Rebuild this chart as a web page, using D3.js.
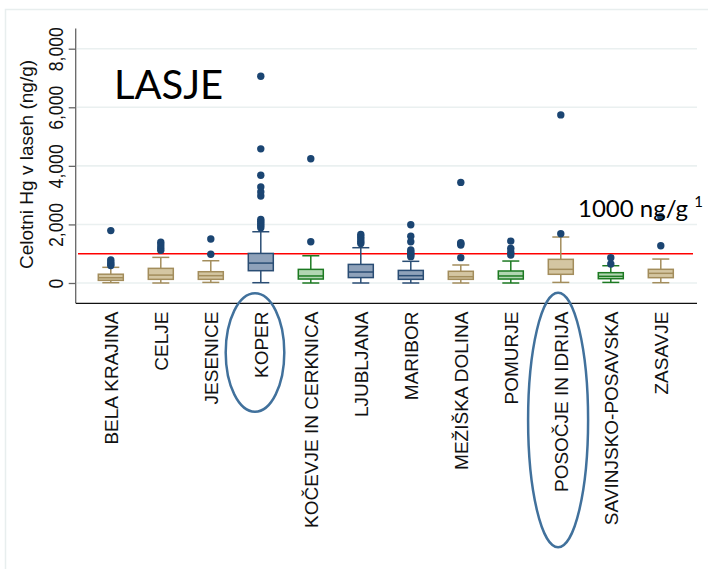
<!DOCTYPE html>
<html>
<head>
<meta charset="utf-8">
<script src="https://cdn.jsdelivr.net/npm/d3@7"></script>
<style>
  html, body { margin: 0; padding: 0; background: #ffffff; }
  svg { display: block; }
</style>
</head>
<body>
<svg id="chart" width="708" height="569"></svg>
<script>
// Regions (x-axis categories)
const categories = [
  "BELA KRAJINA", "CELJE", "JESENICE", "KOPER", "KOČEVJE IN CERKNICA",
  "LJUBLJANA", "MARIBOR", "MEŽIŠKA DOLINA", "POMURJE", "POSOČJE IN IDRIJA",
  "SAVINJSKO-POSAVSKA", "ZASAVJE"
];
// Box plot statistics, total Hg in hair (ng/g)
const whiskerLow  = [10, 0, 20, 10, 0, 0, 0, 0, 0, 20, 20, 10];
const q1          = [90, 125, 125, 420, 135, 185, 125, 125, 135, 297, 147, 182];
const median      = [180, 270, 250, 680, 240, 375, 250, 215, 240, 467, 228, 330];
const q3          = [300, 500, 385, 1010, 465, 635, 430, 400, 410, 808, 352, 467];
const whiskerHigh = [535, 875, 760, 1750, 930, 1205, 740, 615, 750, 1570, 590, 818];
const outliers = [
  [600, 650, 720, 790, 1790],
  [1120, 1200, 1300, 1390],
  [980, 1500],
  [1890, 1960, 2030, 2100, 2170, 2970, 3110, 3280, 3680, 4580, 7060],
  [1410, 4240],
  [1350, 1420, 1500, 1580, 1660],
  [900, 960, 1010, 1070, 1125, 1410, 1600, 1990],
  [865, 1300, 1340, 1375, 3435],
  [955, 1050, 1180, 1430],
  [1683, 5740],
  [648, 865],
  [1272, 2260]
];
// Colour group of each box
const group = ["sand", "sand", "sand", "navy", "green", "navy", "navy", "sand", "green", "sand", "green", "sand"];
const yTicks = [0, 2000, 4000, 6000, 8000];
const threshold = 1000;
const highlighted = ["KOPER", "POSOČJE IN IDRIJA"];

const palette = {
  sand:  { fill: "#d4c6a2", stroke: "#a38d5c" },
  navy:  { fill: "#8fa2ba", stroke: "#2a4d74" },
  green: { fill: "#b2d6b2", stroke: "#1d7a22" }
};

const svg = d3.select("#chart");

// Light frame around the figure
svg.append("rect")
  .attr("x", 5.5).attr("y", 9.5).attr("width", 760).attr("height", 600)
  .attr("fill", "none").attr("stroke", "#e8eeee").attr("stroke-width", 1.5);

const x = d3.scaleBand().domain(categories).range([85.8, 685.8]).padding(0);
const y = d3.scaleLinear().domain([0, 8000]).range([283, 48.7]);
const boxW = x.bandwidth() * 0.5;
const capW = boxW * 0.68;
const cx = c => x(c) + x.bandwidth() / 2;

// Gridlines
svg.append("g").selectAll("line").data(yTicks).join("line")
  .attr("x1", 77).attr("x2", 697)
  .attr("y1", d => y(d)).attr("y2", d => y(d))
  .attr("stroke", "#eaf0f0").attr("stroke-width", 1.6);

// Y axis
const yAxis = svg.append("g").attr("transform", "translate(75.7,0)")
  .call(d3.axisLeft(y).tickValues(yTicks).tickSize(7).tickFormat(d3.format(",")));
yAxis.select(".domain").attr("d", `M0,${y(0) + 20}V28.5`).attr("stroke", "#666").attr("stroke-width", 1.3);
yAxis.selectAll(".tick line").attr("stroke", "#666").attr("stroke-width", 1.3);
yAxis.selectAll(".tick text")
  .attr("transform", "rotate(-90) scale(0.98,1.15)")
  .attr("x", 0).attr("y", -11).attr("dy", 0)
  .attr("text-anchor", "middle")
  .attr("font-family", "Liberation Sans, Arial, sans-serif")
  .attr("font-size", 18).attr("fill", "#111");

// Y axis title
svg.append("text")
  .attr("transform", "translate(32.5,164.5) rotate(-90)")
  .attr("text-anchor", "middle")
  .attr("font-family", "Liberation Sans, Arial, sans-serif")
  .attr("font-size", 19).attr("fill", "#111")
  .text("Celotni Hg v laseh (ng/g)");

// X axis line
svg.append("line")
  .attr("x1", 75.7).attr("x2", 697).attr("y1", 303.3).attr("y2", 303.3)
  .attr("stroke", "#111").attr("stroke-width", 1.3);

// Reference line at 1000 ng/g
svg.append("line")
  .attr("x1", 78).attr("x2", 693)
  .attr("y1", y(threshold)).attr("y2", y(threshold))
  .attr("stroke", "#ff0000").attr("stroke-width", 1.5);

// Boxes
const boxes = svg.append("g").selectAll("g").data(categories).join("g")
  .attr("transform", c => `translate(${cx(c)},0)`);

boxes.each(function (c, i) {
  const g = d3.select(this);
  const col = palette[group[i]];
  // whiskers
  g.append("line").attr("x1", 0).attr("x2", 0)
    .attr("y1", y(q3[i])).attr("y2", y(whiskerHigh[i]))
    .attr("stroke", col.stroke).attr("stroke-width", 1.5);
  g.append("line").attr("x1", 0).attr("x2", 0)
    .attr("y1", y(q1[i])).attr("y2", y(whiskerLow[i]))
    .attr("stroke", col.stroke).attr("stroke-width", 1.5);
  [whiskerHigh[i], whiskerLow[i]].forEach(v => {
    g.append("line").attr("x1", -capW / 2).attr("x2", capW / 2)
      .attr("y1", y(v)).attr("y2", y(v))
      .attr("stroke", col.stroke).attr("stroke-width", 1.5);
  });
  // box
  g.append("rect")
    .attr("x", -boxW / 2).attr("width", boxW)
    .attr("y", y(q3[i])).attr("height", y(q1[i]) - y(q3[i]))
    .attr("fill", col.fill).attr("stroke", col.stroke).attr("stroke-width", 1.5);
  // median
  g.append("line").attr("x1", -boxW / 2).attr("x2", boxW / 2)
    .attr("y1", y(median[i])).attr("y2", y(median[i]))
    .attr("stroke", col.stroke).attr("stroke-width", 1.5);
  // outliers
  g.selectAll("circle").data(outliers[i]).join("circle")
    .attr("cx", 0).attr("cy", d => y(d)).attr("r", 3.7)
    .attr("fill", "#1b4572");
});

// Category labels
svg.append("g").selectAll("text").data(categories).join("text")
  .attr("transform", c => `translate(${cx(c) + 6.8},311.5) rotate(-90)`)
  .attr("text-anchor", "end")
  .attr("font-family", "Liberation Sans, Arial, sans-serif")
  .attr("font-size", 19).attr("fill", "#111")
  .text(c => c);

// Ellipses around highlighted regions
const ellipses = [
  { cat: highlighted[0], dx: -5.8, cy: 352.5, rx: 29.3, ry: 59.2 },
  { cat: highlighted[1], dx: -2.7, cy: 420, ry: 127.3, rx: 30 }
];
svg.append("g").selectAll("ellipse").data(ellipses).join("ellipse")
  .attr("cx", d => cx(d.cat) + d.dx).attr("cy", d => d.cy)
  .attr("rx", d => d.rx).attr("ry", d => d.ry)
  .attr("fill", "none").attr("stroke", "#41719c").attr("stroke-width", 2.5);

// Titles
svg.append("text")
  .attr("x", 114).attr("y", 99)
  .attr("font-family", "Lato, 'Open Sans', sans-serif")
  .attr("font-size", 40).attr("fill", "#000")
  .text("LASJE");

const note = svg.append("text")
  .attr("x", 578).attr("y", 216.7)
  .attr("font-family", "Lato, 'Open Sans', sans-serif")
  .attr("font-size", 24).attr("fill", "#000");
note.append("tspan").text("1000 ng/g ");
note.append("tspan").attr("font-size", 15).attr("dy", -10).text("1");
</script>
</body>
</html>
